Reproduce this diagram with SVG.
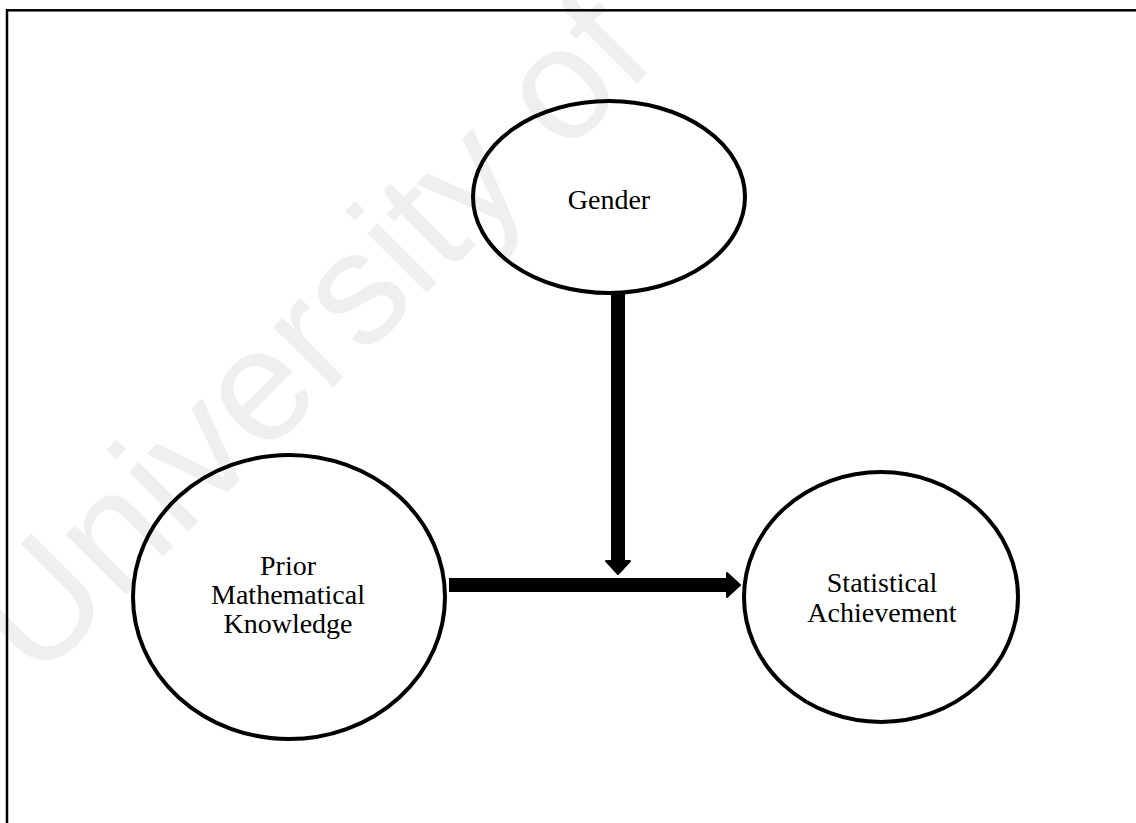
<svg xmlns="http://www.w3.org/2000/svg" width="1136" height="823" viewBox="0 0 1136 823">
  <style>
    .node { fill: none; stroke: #000; stroke-width: 4; }
    .label { font-family: "Liberation Serif", "Times New Roman", serif; font-size: 28px; fill: #000; text-anchor: middle; }
    .link { stroke: #000; stroke-width: 14; fill: none; marker-end: url(#head); }
    .mark { font-family: "Liberation Sans", Arial, sans-serif; font-size: 160px; fill: #efefef; }
  </style>
  <defs>
    <marker id="head" markerUnits="userSpaceOnUse" markerWidth="16" markerHeight="28" viewBox="0 0 16 28" refX="2" refY="14" orient="auto">
      <path d="M1,2 L14,14 L1,26 Z" fill="#000" stroke="#000" stroke-width="2" stroke-linejoin="round"/>
    </marker>
  </defs>

  <rect width="1136" height="823" fill="#fff"/>
  <text class="mark" transform="translate(36,684) rotate(-45)">University of</text>

  <!-- frame, open to the right and bottom -->
  <rect x="7" y="10.3" width="1160" height="840" fill="none" stroke="#000" stroke-width="2.5"/>

  <g id="connectors">
    <line class="link" x1="618" y1="293" x2="618" y2="562"/>
    <line class="link" x1="449" y1="585" x2="728" y2="585"/>
  </g>

  <g id="gender">
    <ellipse class="node" cx="609" cy="197" rx="136" ry="96"/>
    <text class="label" x="609" y="209">Gender</text>
  </g>

  <g id="prior-knowledge">
    <ellipse class="node" cx="289" cy="597" rx="156" ry="142"/>
    <text class="label" x="288" y="575">Prior</text>
    <text class="label" x="288" y="604">Mathematical</text>
    <text class="label" x="288" y="633">Knowledge</text>
  </g>

  <g id="statistical-achievement">
    <ellipse class="node" cx="881" cy="597" rx="137" ry="125"/>
    <text class="label" x="882" y="592">Statistical</text>
    <text class="label" x="882" y="622">Achievement</text>
  </g>
</svg>
